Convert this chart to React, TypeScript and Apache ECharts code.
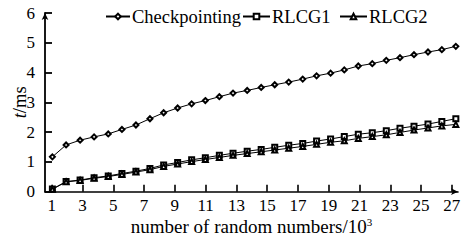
import React, { useEffect, useRef } from "react";
import * as echarts from "echarts";

const xValues = [1.04, 1.93, 2.84, 3.75, 4.67, 5.56, 6.47, 7.38, 8.27, 9.18, 10.09, 10.98, 11.89, 12.78, 13.7, 14.61, 15.49, 16.4, 17.31, 18.21, 19.12, 20.01, 20.92, 21.83, 22.74, 23.63, 24.54, 25.45, 26.35, 27.26];
const checkpointing = [1.17, 1.57, 1.73, 1.84, 1.94, 2.09, 2.24, 2.45, 2.65, 2.81, 2.95, 3.06, 3.19, 3.31, 3.4, 3.5, 3.59, 3.68, 3.78, 3.89, 3.98, 4.09, 4.22, 4.3, 4.41, 4.5, 4.6, 4.69, 4.77, 4.88];
const rlcg1 = [0.09, 0.34, 0.39, 0.47, 0.53, 0.61, 0.69, 0.78, 0.9, 0.98, 1.07, 1.14, 1.22, 1.29, 1.36, 1.42, 1.49, 1.56, 1.62, 1.7, 1.77, 1.85, 1.93, 1.98, 2.05, 2.13, 2.2, 2.27, 2.36, 2.45];
const rlcg2 = [0.08, 0.33, 0.38, 0.45, 0.51, 0.58, 0.66, 0.74, 0.85, 0.93, 1.01, 1.08, 1.15, 1.22, 1.28, 1.34, 1.4, 1.46, 1.52, 1.59, 1.66, 1.71, 1.79, 1.85, 1.91, 1.99, 2.07, 2.14, 2.21, 2.26];
const xTicks = [1, 3, 5, 7, 9, 11, 13, 15, 17, 19, 21, 23, 25, 27];
const seriesNames = ["Checkpointing", "RLCG1", "RLCG2"];

const FONT = "Liberation Serif";

export default function App() {
  const ref = useRef<HTMLDivElement>(null);
  useEffect(() => {
    if (!ref.current) return;
    const chart = echarts.init(ref.current, null, { renderer: "svg" });
    const pair = (ys: number[]) => ys.map((y, i) => [xValues[i], y]);
    const lineStyle = { color: "#000", width: 1 };
    const tick = { fontFamily: FONT, fontSize: 17, color: "#000" };
    const big = { fontFamily: FONT, fontSize: 18.5, color: "#000" };
    const legendBase = {
      top: 2,
      itemHeight: 7,
      itemGap: 0,
      textStyle: { ...big, padding: [0, 0, 0, -3] },
    };
    chart.setOption({
      animation: false,
      backgroundColor: "#fff",
      textStyle: { fontFamily: FONT },
      legend: [
        { ...legendBase, data: [seriesNames[0]], left: 100, itemWidth: 24 },
        { ...legendBase, data: [seriesNames[1]], left: 237, itemWidth: 27 },
        { ...legendBase, data: [seriesNames[2]], left: 334, itemWidth: 27 },
      ],
      grid: { left: 45, right: 3, top: 13, bottom: 49.3, containLabel: false, outerBoundsMode: "none" },
      xAxis: {
        type: "value",
        min: 0.56,
        max: 27.4,
        name: "number of random numbers/10{sup|3}",
        nameLocation: "middle",
        nameGap: 25,
        nameMoveOverlap: false,
        nameTextStyle: {
          ...big,
          fontSize: 19,
          rich: { sup: { fontFamily: FONT, fontSize: 11, color: "#000", verticalAlign: "top", padding: [0, 0, 9, 0] } },
        },
        axisLine: { lineStyle: { color: "#000", width: 1.6 }, symbol: ["none", "arrow"], symbolSize: [5, 7] },
        axisTick: { inside: true, length: 7, lineStyle: { color: "#000", width: 1.6 }, customValues: xTicks },
        axisLabel: { ...tick, margin: 5, customValues: xTicks },
        splitLine: { show: false },
      },
      yAxis: {
        type: "value",
        min: 0,
        max: 6,
        interval: 1,
        name: "{i|t}/ms",
        nameLocation: "middle",
        nameGap: 16,
        nameMoveOverlap: false,
        nameRotate: 90,
        nameTextStyle: {
          ...big,
          rich: { i: { fontFamily: FONT, fontSize: 18.5, color: "#000", fontStyle: "italic" } },
        },
        axisLine: { show: true, lineStyle: { color: "#000", width: 1.8 }, symbol: ["none", "arrow"], symbolSize: [5, 7] },
        axisTick: { show: true, inside: true, length: 7, lineStyle: { color: "#000", width: 1.8 } },
        axisLabel: { ...tick, margin: 10 },
        splitLine: { show: false },
      },
      series: [
        {
          name: seriesNames[0],
          type: "line",
          data: pair(checkpointing),
          symbol: "emptyDiamond",
          symbolSize: 5,
          lineStyle,
          itemStyle: { color: "#000", borderColor: "#000", borderWidth: 1 },
        },
        {
          name: seriesNames[1],
          type: "line",
          data: pair(rlcg1),
          symbol: "emptyRect",
          symbolSize: 5,
          lineStyle,
          itemStyle: { color: "#000", borderColor: "#000", borderWidth: 1 },
        },
        {
          name: seriesNames[2],
          type: "line",
          data: pair(rlcg2),
          symbol: "emptyTriangle",
          symbolSize: 5,
          lineStyle,
          itemStyle: { color: "#000", borderColor: "#000", borderWidth: 1 },
        },
      ],
    });
    return () => chart.dispose();
  }, []);
  return <div ref={ref} style={{ width: 461, height: 241, position: "absolute", left: 0, top: 0 }} />;
}
